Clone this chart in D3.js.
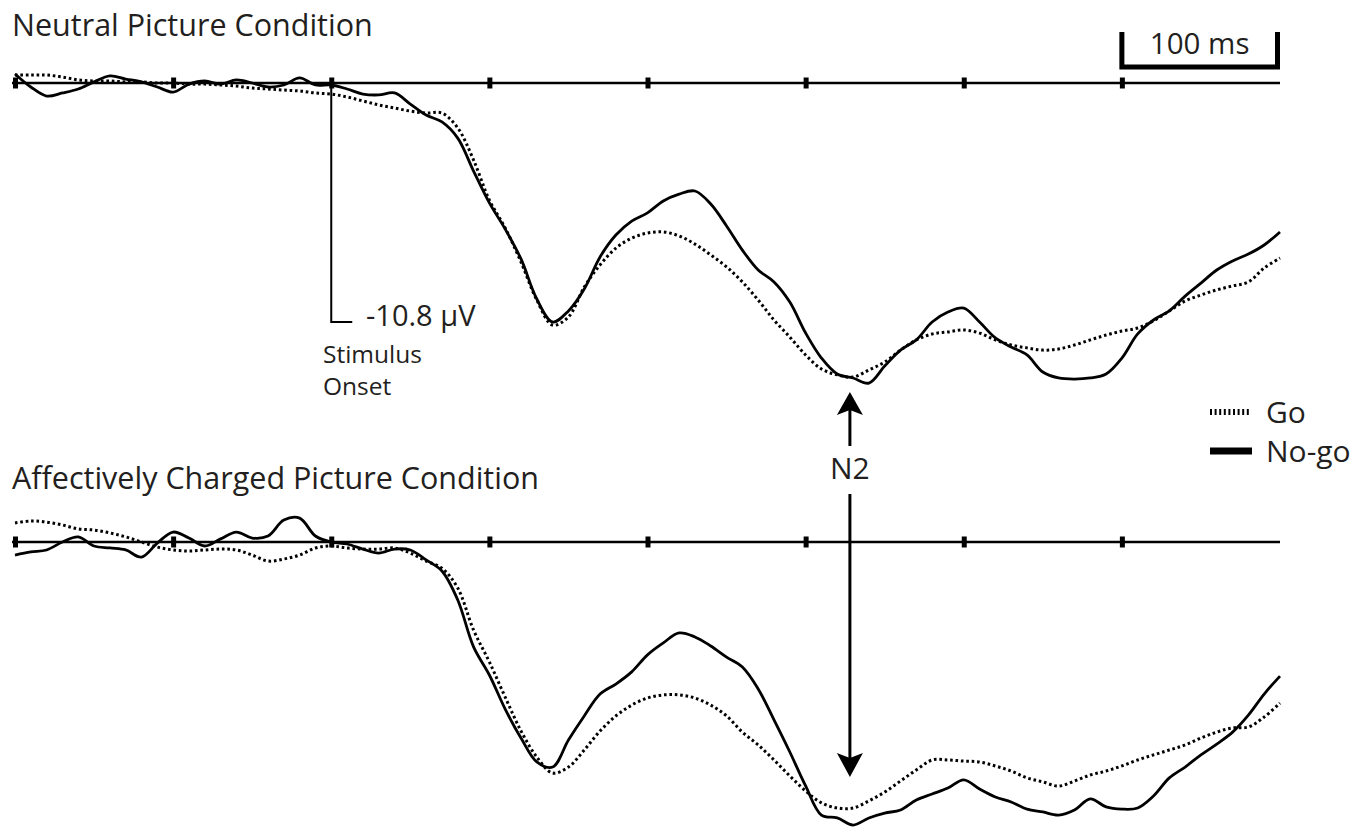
<!DOCTYPE html>
<html>
<head>
<meta charset="utf-8">
<script src="https://cdn.jsdelivr.net/npm/d3@7"></script>
<style>
  body { margin: 0; background: #fff; }
  text { font-family: "Open Sans", sans-serif; fill: #231f20; }
</style>
</head>
<body>
<script>
// Step 1: Data (ms, microvolts)
//= ================================
// sample times, every 10 ms from -200 to 600
var times = d3.range(-200, 601, 10);

// Neutral picture condition
var neutralGo = [
  0.36, 0.36, 0.36, 0.27, 0.14, 0.09, 0.09, 0.05, 0.05, 0, 0,
  -0.05, -0.05, -0.09, -0.14, -0.23, -0.27, -0.32, -0.36, -0.45, -0.50,
  -0.63, -0.81, -0.99, -1.13, -1.27, -1.36, -1.36, -2.03, -3.48, -5.29,
  -6.55, -8.09, -9.81, -10.94, -10.57, -9.22, -8.22, -7.46, -7.01, -6.78,
  -6.73, -6.91, -7.28, -7.77, -8.31, -8.99, -9.81, -10.71, -11.48, -12.29,
  -12.92, -13.19, -13.29, -12.97, -12.61, -12.07, -11.61, -11.34, -11.25, -11.16,
  -11.30, -11.61, -11.84, -11.97, -12.07, -12.02, -11.84, -11.61, -11.39, -11.21,
  -11.07, -10.75, -10.30, -9.85, -9.58, -9.35, -9.17, -8.99, -8.36, -7.91
];
var neutralNogo = [
  0.41, -0.18, -0.59, -0.45, -0.27, 0.05, 0.32, 0.18, 0.05, -0.18, -0.41,
  -0.05, 0.09, -0.05, 0.14, 0, -0.18, -0.09, 0.23, -0.09, -0.09,
  -0.27, -0.50, -0.54, -0.45, -0.95, -1.45, -1.76, -2.49, -3.98, -5.42,
  -6.60, -7.95, -9.76, -10.80, -10.30, -9.31, -7.86, -6.87, -6.24, -5.87,
  -5.33, -5.02, -4.88, -5.47, -6.46, -7.55, -8.45, -8.99, -9.90, -11.30,
  -12.43, -13.15, -13.33, -13.56, -12.79, -12.07, -11.61, -10.80, -10.35, -10.17,
  -10.80, -11.52, -11.93, -12.29, -13.06, -13.33, -13.38, -13.33, -13.15, -12.43,
  -11.34, -10.71, -10.30, -9.63, -9.04, -8.45, -8.04, -7.73, -7.32, -6.73
];

// Affectively charged picture condition
var affectiveGo = [
  0.86, 0.95, 0.90, 0.77, 0.59, 0.54, 0.41, 0.23, 0, -0.23, -0.36,
  -0.41, -0.36, -0.32, -0.36, -0.59, -0.86, -0.77, -0.59, -0.27, -0.18,
  -0.27, -0.32, -0.32, -0.27, -0.50, -0.86, -1.18, -2.08, -3.98, -5.42,
  -7.01, -8.54, -9.72, -10.44, -10.17, -9.40, -8.54, -7.86, -7.37, -7.05,
  -6.91, -6.91, -7.05, -7.37, -7.86, -8.59, -9.17, -9.85, -10.57, -11.25,
  -11.79, -12.02, -12.02, -11.70, -11.30, -10.80, -10.30, -9.85, -9.85, -9.90,
  -9.94, -10.12, -10.35, -10.66, -10.84, -11.03, -10.80, -10.53, -10.35, -10.12,
  -9.85, -9.62, -9.40, -9.17, -8.86, -8.59, -8.40, -8.36, -7.91, -7.28
];
var affectiveNogo = [
  -0.59, -0.45, -0.36, 0, 0.23, -0.18, -0.27, -0.36, -0.68, -0.05, 0.45,
  0.18, -0.18, 0.14, 0.45, 0.18, 0.27, 0.99, 1.08, 0.27, 0,
  -0.09, -0.32, -0.50, -0.32, -0.36, -0.81, -1.31, -2.62, -4.74, -6.01,
  -7.55, -8.86, -9.94, -10.17, -8.95, -7.86, -6.87, -6.42, -5.87, -5.10,
  -4.56, -4.11, -4.29, -4.70, -5.20, -5.65, -6.64, -8.04, -9.49, -11.02,
  -12.34, -12.47, -12.79, -12.47, -12.25, -12.11, -11.66, -11.39, -11.12, -10.75,
  -11.16, -11.52, -11.75, -12.07, -12.20, -12.34, -12.11, -11.61, -11.97, -12.07,
  -12.02, -11.48, -10.66, -10.17, -9.62, -9.13, -8.59, -7.82, -6.87, -6.06
];

var tickTimes = [-200, -100, 0, 100, 200, 300, 400, 500];
var scaleMicrovolts = -10.8;
var n2Time = 328;

// Step 2: Set up the svg
//= ================================
var svgWidth = 1371;
var svgHeight = 829;

var svg = d3.select("body")
  .append("svg")
  .attr("width", svgWidth)
  .attr("height", svgHeight);

var xScale = d3.scaleLinear()
  .domain([-200, 600])
  .range([15, 1280]);

// 10.8 uV spans 239 px, negative plotted downward
var yTop = d3.scaleLinear()
  .domain([0, scaleMicrovolts])
  .range([83, 322]);

var yBottom = d3.scaleLinear()
  .domain([0, scaleMicrovolts])
  .range([542, 781]);

// function used to draw one panel (axis + two waveforms)
function drawPanel(yScale, goValues, nogoValues, title, titleY) {
  var g = svg.append("g");

  g.append("text")
    .attr("x", 12)
    .attr("y", titleY)
    .style("font-size", "30.5px")
    .text(title);

  // baseline
  g.append("line")
    .attr("x1", xScale(-200) - 3)
    .attr("x2", xScale(600))
    .attr("y1", yScale(0))
    .attr("y2", yScale(0))
    .attr("stroke", "#000")
    .attr("stroke-width", 2.6);

  var axis = d3.axisBottom(xScale)
    .tickValues(tickTimes)
    .tickSize(11)
    .tickFormat("");

  var axisGroup = g.append("g")
    .attr("transform", `translate(0, ${yScale(0)})`)
    .call(axis);
  axisGroup.select(".domain").remove();
  axisGroup.selectAll(".tick line")
    .attr("y1", -5.5)
    .attr("y2", 5.5)
    .attr("stroke", "#000")
    .attr("stroke-width", 5);

  var line = d3.line()
    .x((d, i) => xScale(times[i]))
    .y(d => yScale(d))
    .curve(d3.curveCatmullRom.alpha(0.5));

  g.append("path")
    .datum(goValues)
    .attr("d", line)
    .attr("fill", "none")
    .attr("stroke", "#000")
    .attr("stroke-width", 3)
    .attr("stroke-dasharray", "2.6,2.8");

  g.append("path")
    .datum(nogoValues)
    .attr("d", line)
    .attr("fill", "none")
    .attr("stroke", "#000")
    .attr("stroke-width", 2.8)
    .attr("stroke-linejoin", "round");
}

// Step 3: Panels
//= ================================
drawPanel(yTop, neutralGo, neutralNogo, "Neutral Picture Condition", 36);
drawPanel(yBottom, affectiveGo, affectiveNogo, "Affectively Charged Picture Condition", 489);

// Step 4: Stimulus onset / amplitude marker
//= ================================
var x0 = xScale(0);
svg.append("path")
  .attr("d", `M${x0},${yTop(0)} V${yTop(scaleMicrovolts)} H${x0 + 21}`)
  .attr("fill", "none")
  .attr("stroke", "#000")
  .attr("stroke-width", 2);

svg.append("text")
  .attr("x", 366)
  .attr("y", 326)
  .style("font-size", "29px")
  .text(scaleMicrovolts.toFixed(1) + " \u00B5V");

svg.append("text")
  .attr("x", 323)
  .attr("y", 363)
  .style("font-size", "24.5px")
  .text("Stimulus");

svg.append("text")
  .attr("x", 323)
  .attr("y", 395)
  .style("font-size", "24.5px")
  .text("Onset");

// Step 5: 100 ms scale bar
//= ================================
var sb0 = xScale(500);
var sb1 = xScale(600) - 2.5;
svg.append("path")
  .attr("d", `M${sb0},${32} V${67} H${sb1} V${32}`)
  .attr("fill", "none")
  .attr("stroke", "#000")
  .attr("stroke-width", 5);

svg.append("text")
  .attr("x", (sb0 + sb1) / 2)
  .attr("y", 54)
  .attr("text-anchor", "middle")
  .style("font-size", "29.5px")
  .text("100 ms");

// Step 6: Legend
//= ================================
var legend = svg.append("g");
legend.append("line")
  .attr("x1", 1210).attr("x2", 1251)
  .attr("y1", 412).attr("y2", 412)
  .attr("stroke", "#000")
  .attr("stroke-width", 6)
  .attr("stroke-dasharray", "2,2.6");
legend.append("text")
  .attr("x", 1266).attr("y", 423)
  .style("font-size", "30px")
  .text("Go");
legend.append("line")
  .attr("x1", 1210).attr("x2", 1252)
  .attr("y1", 451).attr("y2", 451)
  .attr("stroke", "#000")
  .attr("stroke-width", 7);
legend.append("text")
  .attr("x", 1266).attr("y", 462)
  .style("font-size", "30px")
  .text("No-go");

// Step 7: N2 arrows
//= ================================
var xn = xScale(n2Time);
svg.append("line")
  .attr("x1", xn).attr("x2", xn)
  .attr("y1", 410).attr("y2", 446)
  .attr("stroke", "#000")
  .attr("stroke-width", 3);
svg.append("path")
  .attr("d", `M${xn},392 L${xn + 13},415 L${xn},410 L${xn - 13},415 Z`)
  .attr("fill", "#000");

svg.append("text")
  .attr("x", xn)
  .attr("y", 479)
  .attr("text-anchor", "middle")
  .style("font-size", "30px")
  .text("N2");

svg.append("line")
  .attr("x1", xn).attr("x2", xn)
  .attr("y1", 494).attr("y2", 760)
  .attr("stroke", "#000")
  .attr("stroke-width", 3);
svg.append("path")
  .attr("d", `M${xn},777 L${xn + 13},753 L${xn},758 L${xn - 13},753 Z`)
  .attr("fill", "#000");
</script>
</body>
</html>
